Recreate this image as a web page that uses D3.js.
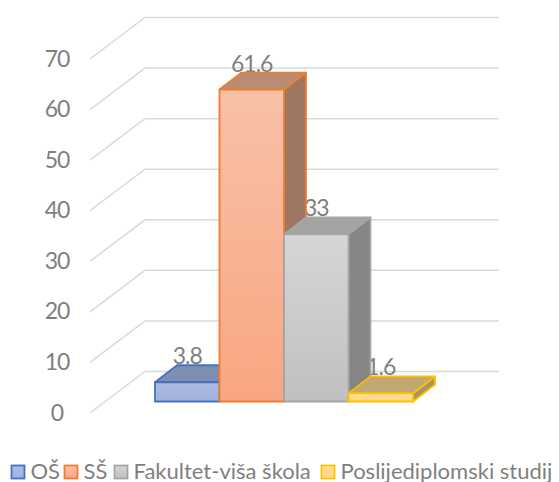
<!DOCTYPE html>
<html><head><meta charset="utf-8"><script src="https://cdn.jsdelivr.net/npm/d3@7/dist/d3.min.js"></script>
<style>html,body{margin:0;padding:0;background:#fff}svg{display:block}text{font-family:Lato,"Open Sans",sans-serif}</style></head>
<body><svg id="c" width="559" height="482"></svg>
<script>
const categories=["OŠ","SŠ","Fakultet-viša škola","Poslijediplomski studij"];
const values=[3.8,61.6,33,1.6];
const yTicks=[0,10,20,30,40,50,60,70];
const strokeColors=["#4472c4","#ed7d31","#a5a5a5","#ffc000"];
const topFill=["#7e8eb0","#bb8c74","#a3a3a3","#c2a873"];
const sideFill=["#6d7d9e","#9e7661","#858585","#a89468"];
const gradTop=["#adbbe2","#f8c1a7","#d6d6d6","#ffe09c"];
const gradBottom=["#a0b2de","#f9a682","#c0c0c0","#ffd67f"];
const legendX=[11.5,64.5,114.5,321.5];

const svg=d3.select("#c");
const y=d3.scaleLinear().domain([0,70]).range([401.5,47]);
const x=d3.scaleBand().domain(categories).range([155,413]).padding(0);
const wallDx=55,wallDy=-41.5,wallLeft=90,wallRight=499;
const barDx=22,barDy=-17;
const yw=d3.scaleLinear().domain([0,70]).range([413,59]);

const defs=svg.append("defs");
categories.forEach((c,i)=>{
  const g=defs.append("linearGradient").attr("id","g"+i).attr("x1",0).attr("y1",0).attr("x2",0).attr("y2",1);
  g.append("stop").attr("offset",0).attr("stop-color",gradTop[i]);
  g.append("stop").attr("offset",1).attr("stop-color",gradBottom[i]);
});

const grid=svg.append("g").attr("fill","none").attr("stroke","#d9d9d9").attr("stroke-width",1.5);
yTicks.forEach(t=>{
  const p=d3.path();
  p.moveTo(wallLeft,yw(t));p.lineTo(wallLeft+wallDx,yw(t)+wallDy);p.lineTo(wallRight,yw(t)+wallDy);
  grid.append("path").attr("d",p.toString());
});

svg.append("g").selectAll("text").data(yTicks).join("text")
  .attr("x",57).attr("y",t=>yw(t)+7.5).attr("text-anchor","middle")
  .attr("font-size",23).attr("letter-spacing",-1).attr("fill","#7f7f7f").text(t=>t);

// value labels sit behind the bars, which clip "33" and "1.6"
svg.append("g").selectAll("text").data(values).join("text")
  .attr("x",(d,i)=>x(categories[i])+x.bandwidth()/2)
  .attr("y",d=>y(d)+barDy-1)
  .attr("text-anchor","middle").attr("font-size",23).attr("letter-spacing",-1).attr("fill","#7f7f7f").text(d=>d);

const bars=svg.append("g");
categories.forEach((c,i)=>{
  const x0=x(c),x1=x0+x.bandwidth(),yt=y(values[i]),yb=y(0);
  const g=bars.append("g").attr("stroke",strokeColors[i]).attr("stroke-width",1.8).attr("stroke-linejoin","round");
  const side=d3.path();side.moveTo(x1,yt);side.lineTo(x1+barDx,yt+barDy);side.lineTo(x1+barDx,yb+barDy);side.lineTo(x1,yb);side.closePath();
  g.append("path").attr("d",side.toString()).attr("fill",sideFill[i]);
  const top=d3.path();top.moveTo(x0,yt);top.lineTo(x0+barDx,yt+barDy);top.lineTo(x1+barDx,yt+barDy);top.lineTo(x1,yt);top.closePath();
  g.append("path").attr("d",top.toString()).attr("fill",topFill[i]);
  g.append("rect").attr("x",x0).attr("y",yt).attr("width",x1-x0).attr("height",yb-yt).attr("fill","url(#g"+i+")");
});

const lg=svg.append("g");
categories.forEach((c,i)=>{
  lg.append("rect").attr("x",legendX[i]).attr("y",465.5).attr("width",13).attr("height",13)
    .attr("fill","url(#g"+i+")").attr("stroke",strokeColors[i]).attr("stroke-width",1.8);
  lg.append("text").attr("x",legendX[i]+19).attr("y",478.5).attr("font-size",22).attr("fill","#7f7f7f").text(c);
});
</script></body></html>
